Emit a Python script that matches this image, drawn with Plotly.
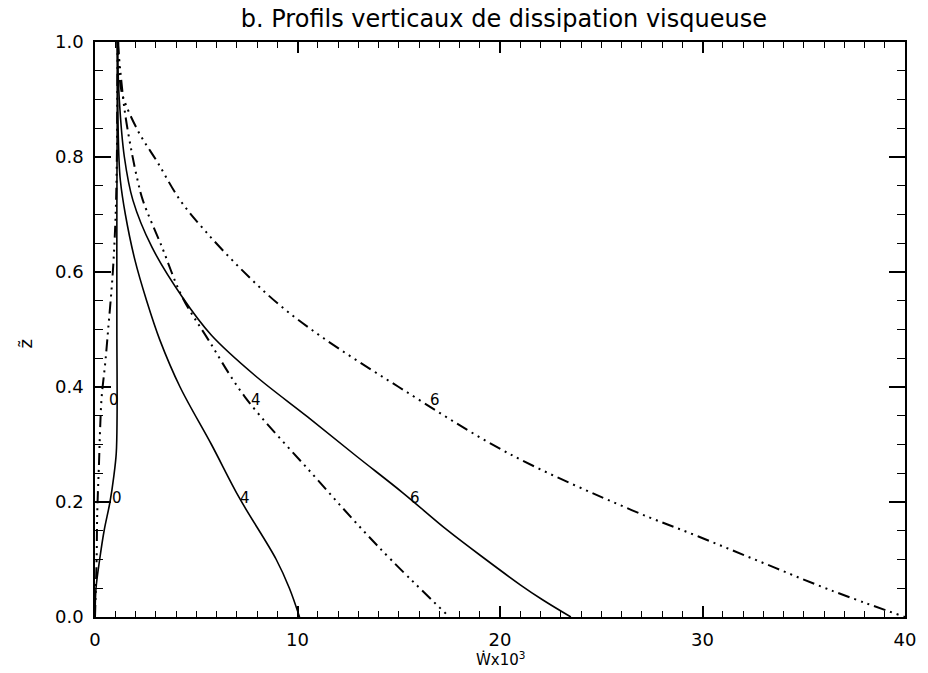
import plotly.graph_objects as go

# Vertical profiles of viscous dissipation: W x 10^3 against normalised height z~
# Solid and dash-dot-dot-dot pairs for cases 0, 4 and 6.
z_solid0 = [0.0, 0.05, 0.1, 0.15, 0.2, 0.245, 0.285, 0.35, 0.5, 0.7, 0.9, 1.0]
w_solid0 = [0.0, 0.05, 0.23, 0.45, 0.74, 0.93, 1.05, 1.09, 1.08, 1.08, 1.1, 1.12]

z_dash0 = [0.0, 0.05, 0.1, 0.18, 0.27, 0.325, 0.383, 0.44, 0.5, 0.6, 0.7, 0.8, 0.9, 1.0]
w_dash0 = [0.0, 0.04, 0.08, 0.11, 0.2, 0.25, 0.33, 0.5, 0.65, 0.88, 1.02, 1.08, 1.1, 1.12]

z_solid4 = [1.0, 0.9, 0.8, 0.76, 0.7, 0.621, 0.55, 0.482, 0.40, 0.30, 0.207, 0.1, 0.05, 0.0]
w_solid4 = [1.1, 1.12, 1.18, 1.25, 1.5, 1.97, 2.55, 3.2, 4.2, 5.75, 7.13, 8.95, 9.6, 10.1]

z_dash4 = [1.0, 0.95, 0.877, 0.807, 0.76, 0.725, 0.644, 0.557, 0.482, 0.383, 0.25, 0.122, 0.0]
w_dash4 = [1.12, 1.25, 1.48, 1.82, 2.1, 2.36, 3.3, 4.3, 5.6, 7.4, 10.7, 14.0, 17.5]

z_solid6 = [1.0, 0.9, 0.8, 0.725, 0.644, 0.557, 0.49, 0.42, 0.348, 0.28, 0.216, 0.151, 0.1, 0.056, 0.03, 0.0]
w_solid6 = [1.1, 1.2, 1.45, 1.87, 2.8, 4.3, 5.75, 7.9, 10.5, 12.9, 15.2, 17.4, 19.3, 21.0, 22.1, 23.5]

z_dash6 = [1.0, 0.95, 0.911, 0.847, 0.79, 0.725, 0.673, 0.609, 0.546, 0.487, 0.40, 0.285, 0.186, 0.14, 0.094, 0.047, 0.0]
w_dash6 = [1.15, 1.2, 1.33, 2.1, 3.1, 4.2, 5.4, 7.1, 9.0, 11.2, 15.0, 20.4, 26.5, 29.8, 33.0, 36.3, 40.0]

# Curve labels
label_text = ["0", "0", "4", "4", "6", "6"]
label_w = [0.92, 1.1, 7.97, 7.43, 16.8, 15.8]
label_z = [0.377, 0.207, 0.377, 0.207, 0.377, 0.207]

x_ticks = [0, 10, 20, 30, 40]
y_ticks = [0.0, 0.2, 0.4, 0.6, 0.8, 1.0]

FONT = "DejaVu Sans"
DASH = "12px,5px,2px,5px,2px,5px,2px,5px"

fig = go.Figure()

series = [
    (w_solid0, z_solid0, "solid", 1.6),
    (w_dash0, z_dash0, DASH, 2.0),
    (w_solid4, z_solid4, "solid", 1.6),
    (w_dash4, z_dash4, DASH, 2.0),
    (w_solid6, z_solid6, "solid", 1.6),
    (w_dash6, z_dash6, DASH, 2.0),
]
for w, z, dash, lw in series:
    fig.add_trace(go.Scatter(
        x=w, y=z, mode="lines",
        line=dict(color="black", width=lw, dash=dash, shape="spline", smoothing=1.0),
        hoverinfo="skip", showlegend=False,
    ))

for t, w, z in zip(label_text, label_w, label_z):
    fig.add_annotation(x=w, y=z, text=t, showarrow=False,
                       font=dict(family=FONT, size=15, color="black"))

# Axis titles
fig.add_annotation(xref="paper", yref="paper", x=0.5, y=0, yshift=-42,
                   xanchor="center", yanchor="middle", borderpad=0,
                   text="Ẇx10<sup>3</sup>", showarrow=False,
                   font=dict(family=FONT, size=15, color="black"))
fig.add_annotation(xref="paper", yref="paper", x=0, y=0.5, xshift=-70, yshift=-15,
                   xanchor="center", yanchor="middle",
                   text="z̃", textangle=-90, showarrow=False,
                   font=dict(family=FONT, size=18, color="black"))

axis_common = dict(
    showline=True, linecolor="black", linewidth=1.5, mirror="ticks",
    ticks="inside", tickcolor="black", tickwidth=1.5,
    showgrid=False, zeroline=False,
    tickfont=dict(family=FONT, size=18, color="black"),
)

fig.update_xaxes(
    range=[0, 40], tickvals=x_ticks, ticktext=[str(v) for v in x_ticks],
    ticklen=11, ticklabelstandoff=6,
    minor=dict(ticks="inside", ticklen=6, dtick=1, tickcolor="black", tickwidth=1.2, showgrid=False),
    **axis_common,
)
fig.update_yaxes(
    range=[0, 1], tickvals=y_ticks, ticktext=[f"{v:.1f}" for v in y_ticks],
    ticklen=16, ticklabelstandoff=6,
    minor=dict(ticks="inside", ticklen=8, dtick=0.05, tickcolor="black", tickwidth=1.2, showgrid=False),
    **axis_common,
)

fig.update_layout(
    width=928, height=673,
    margin=dict(l=95, r=20, t=42, b=56),
    paper_bgcolor="white", plot_bgcolor="white",
    title=dict(text="b. Profils verticaux de dissipation visqueuse",
               x=0.543, xanchor="center", y=0.973, yanchor="middle",
               font=dict(family=FONT, size=24, color="black")),
    showlegend=False,
)

fig.write_html("out.html")
